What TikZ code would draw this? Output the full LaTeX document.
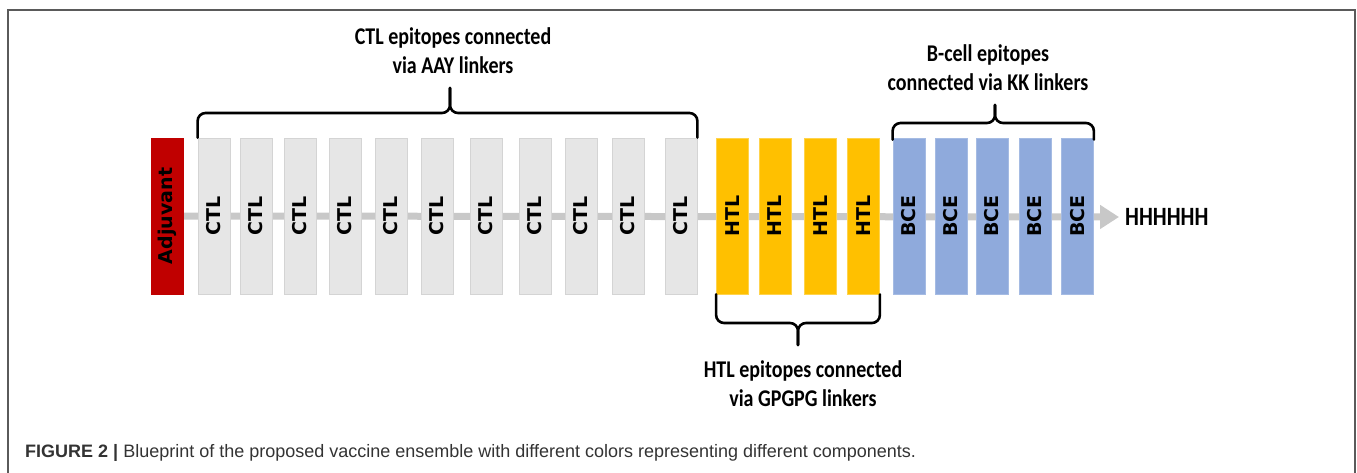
\documentclass[tikz,border=0pt]{standalone}
\usepackage{fontspec}
\setmainfont{Liberation Sans}
\newfontfamily\calfont{Carlito}
\newfontfamily\boxfont{DejaVu Sans}
\usetikzlibrary{arrows.meta,backgrounds,positioning,calc}

\definecolor{adjred}{HTML}{C00000}
\definecolor{ctlgray}{HTML}{E6E6E6}
\definecolor{ctledge}{HTML}{D4D4D4}
\definecolor{htlgold}{HTML}{FFC000}
\definecolor{bceblue}{HTML}{8FAADC}
\definecolor{linkgray}{HTML}{C8C8C8}
\definecolor{framegray}{HTML}{5A5A5A}

\newcommand{\tallbox}[1]{\scalebox{1}[1.2]{\begin{tabular}{@{}c@{}}#1\end{tabular}}}

\tikzset{
  seg/.style={minimum width=32pt, minimum height=156pt, inner sep=0pt,
    font=\boxfont\bfseries\fontsize{19pt}{22pt}\selectfont},
  adjbox/.style={seg, fill=adjred, draw=adjred},
  ctlbox/.style={seg, fill=ctlgray, draw=ctledge, line width=0.8pt},
  htlbox/.style={seg, fill=htlgold, draw=htlgold!70!white, line width=0.8pt},
  bcebox/.style={seg, fill=bceblue, draw=bceblue!80!white, line width=0.8pt},
  grouplabel/.style={inner sep=0pt, font=\calfont\bfseries\fontsize{20pt}{24pt}\selectfont},
  bracket/.style={line width=2.6pt, rounded corners=8pt, line cap=round},
  backbone/.style={linkgray, line width=7pt, -{Triangle[length=19pt,width=23pt]}},
  frame/.style={framegray, line width=1.5pt}
}

\begin{document}
\begin{tikzpicture}[x=1pt, y=-1pt]
  \useasboundingbox (0,0) rectangle (1357,473);

  % Frame
  \draw[frame] (8,473) |- (1355,10) -- (1355,473);

  % Adjuvant
  \node[adjbox] (adj) at (167,216) {\rotatebox{90}{Adjuvant}};

  % CTL epitopes
  \foreach \x [count=\i] in {214,256,300,345,391,437,486,535,581,628,681}
    \node[ctlbox] (ctl\i) at (\x,216) {\rotatebox{90}{CTL}};

  % HTL epitopes
  \foreach \x [count=\i] in {732.5,775,820.5,863.5}
    \node[htlbox] (htl\i) at (\x,216) {\rotatebox{90}{HTL}};

  % B-cell epitopes
  \foreach \x [count=\i] in {909,951,992,1035,1077.5}
    \node[bcebox] (bce\i) at (\x,216) {\rotatebox{90}{BCE}};

  % His tag
  \node[grouplabel, anchor=west, font=\calfont\bfseries\fontsize{22pt}{24pt}\selectfont] (his) at (1125,217) {\scalebox{1}[1.2]{HHHHHH}};

  % Backbone
  \begin{pgfonlayer}{background}
    \draw[backbone] (adj.east) -- ([xshift=-6pt]his.west);
  \end{pgfonlayer}

  % Braces
  \coordinate (ctlmid) at (450,113);
  \coordinate (ctltip) at (450,88);
  \draw[bracket] (ctl1.north west) |- (ctlmid) -- (ctltip);
  \draw[bracket] (ctl11.north east) |- (ctlmid) -- (ctltip);

  \coordinate (htlmid) at (798,323);
  \coordinate (htltip) at (798,345);
  \draw[bracket] (htl1.south west) |- (htlmid) -- (htltip);
  \draw[bracket] (htl4.south east) |- (htlmid) -- (htltip);

  \coordinate (bcemid) at (995,123);
  \coordinate (bcetip) at (995,105);
  \draw[bracket] ([yshift=-2pt]bce1.north west) |- (bcemid) -- (bcetip);
  \draw[bracket] ([yshift=-2pt]bce5.north east) |- (bcemid) -- (bcetip);

  % Group labels
  \node[grouplabel] (ctltxt) at (453,53) {\tallbox{CTL epitopes connected\\via AAY linkers}};
  \node[grouplabel] (bcetxt) at (988,70) {\tallbox{B-cell epitopes\\connected via KK linkers}};
  \node[grouplabel] (htltxt) at (803,386) {\tallbox{HTL epitopes connected\\via GPGPG linkers}};

  % Caption
  \node[anchor=base west, inner sep=0pt, text=black!80, font=\fontsize{18pt}{20pt}\selectfont] (cap) at (25,457)
    {\textbf{FIGURE 2 |} Blueprint of the proposed vaccine ensemble with different colors representing different components.};
\end{tikzpicture}
\end{document}
